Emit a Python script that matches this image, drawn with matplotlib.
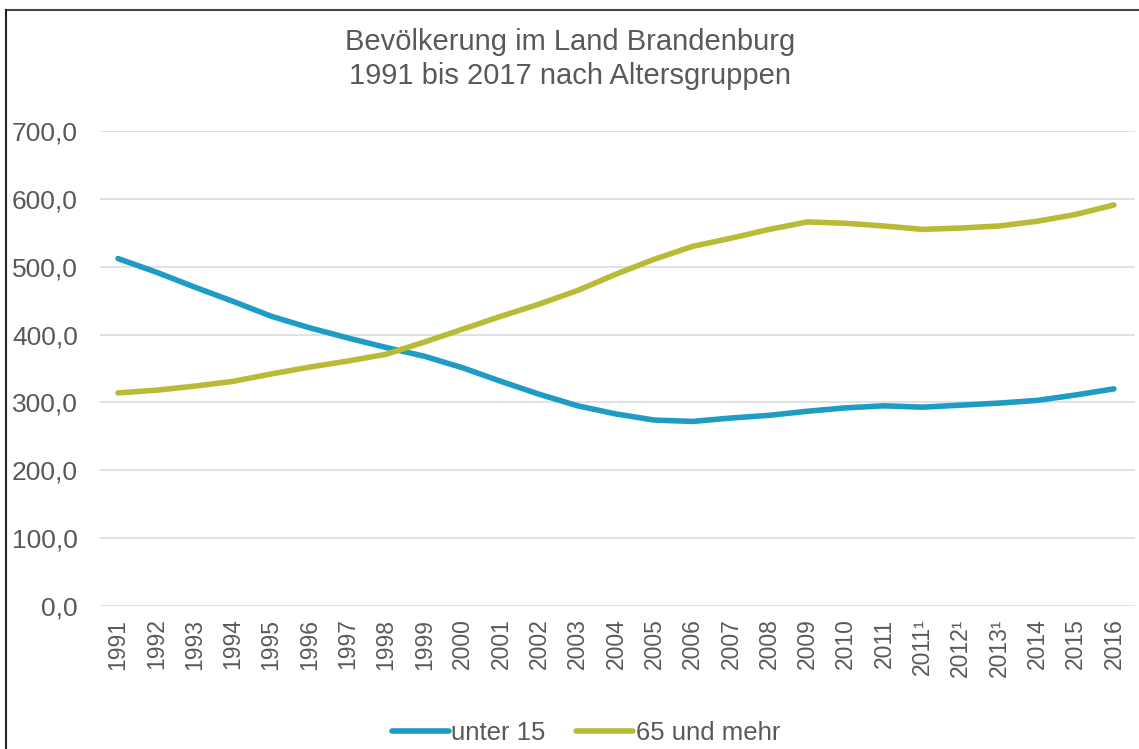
import matplotlib
matplotlib.use("Agg")
import matplotlib.pyplot as plt
from matplotlib.lines import Line2D

years = ["1991", "1992", "1993", "1994", "1995", "1996", "1997", "1998", "1999",
         "2000", "2001", "2002", "2003", "2004", "2005", "2006", "2007", "2008",
         "2009", "2010", "2011", "2011¹", "2012¹", "2013¹", "2014", "2015", "2016"]
unter_15 = [512, 492, 470, 449, 427, 410, 395, 381, 368, 351, 331, 312, 295, 283,
            274, 272, 277, 281, 287, 292, 295, 293, 296, 299, 303, 311, 320]
ab_65 = [314, 318, 324, 331, 342, 352, 361, 371, 389, 408, 427, 445, 465, 489,
         511, 530, 542, 555, 566, 564, 560, 555, 557, 560, 567, 577, 591]
yticks = [0, 100, 200, 300, 400, 500, 600, 700]

text_color = "#595959"
plt.rcParams['font.family'] = ['Liberation Sans', 'DejaVu Sans']

W, H = 1139, 749
fig = plt.figure(figsize=(W / 100, H / 100), dpi=100)
ax = fig.add_axes([100 / W, 1 - 606 / H, 1035 / W, (606 - 131) / H])

x = list(range(len(years)))
ax.plot(x, unter_15, color="#1e9cc4", lw=4, solid_capstyle="round", label="unter 15")
ax.plot(x, ab_65, color="#b9bb37", lw=4, solid_capstyle="round", label="65 und mehr")

ax.set_xlim(-0.47, len(years) - 1 + 0.55)
ax.set_ylim(0, 700)
ax.set_yticks(yticks)
ax.set_yticklabels([f"{v},0" for v in yticks])
ax.set_xticks(x)
ax.set_xticklabels(years, rotation=90)
ax.tick_params(axis="both", length=0, colors=text_color)
ax.tick_params(axis="x", pad=9, labelsize=16.5)
ax.tick_params(axis="y", pad=16, labelsize=19)
ax.grid(axis="y", color="#d9dde0", lw=1.2)
ax.set_axisbelow(True)
for s in ax.spines.values():
    s.set_visible(False)

fig.text(570 / W, 1 - 42 / H, "Bevölkerung im Land Brandenburg", ha="center", va="center",
         fontsize=21, color=text_color)
fig.text(570 / W, 1 - 76 / H, "1991 bis 2017 nach Altersgruppen", ha="center", va="center",
         fontsize=21, color=text_color)

fig.legend(loc="center", bbox_to_anchor=(586 / W, 1 - 733 / H), ncol=2, frameon=False,
           fontsize=18.5, labelcolor=text_color, handlelength=2.2, handletextpad=0.1,
           columnspacing=1.2)

fig.add_artist(Line2D([6 / W, 1], [1 - 9.5 / H, 1 - 9.5 / H], transform=fig.transFigure,
                      color="#444444", lw=1.5))
fig.add_artist(Line2D([6 / W, 6 / W], [0, 1 - 9.5 / H], transform=fig.transFigure,
                      color="#222222", lw=1.5))

fig.savefig("out.png", dpi=100)
